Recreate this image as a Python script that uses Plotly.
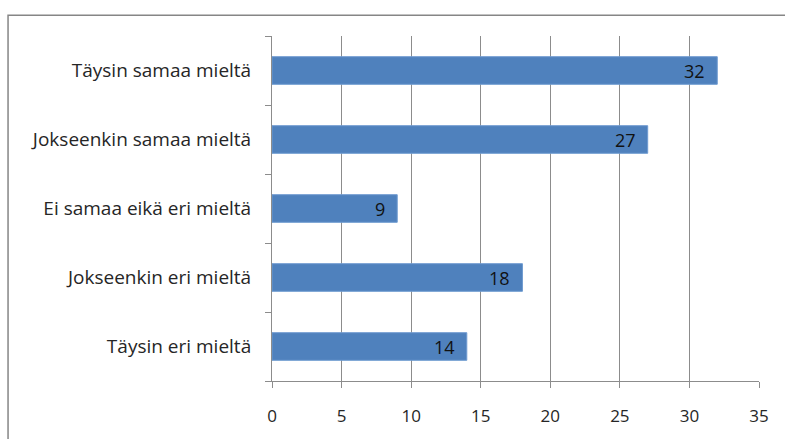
import plotly.graph_objects as go

# Survey responses (count per answer option), top to bottom
categories = [
    "Täysin samaa mieltä",
    "Jokseenkin samaa mieltä",
    "Ei samaa eikä eri mieltä",
    "Jokseenkin eri mieltä",
    "Täysin eri mieltä",
]
counts = [32, 27, 9, 18, 14]
x_ticks = [0, 5, 10, 15, 20, 25, 30, 35]

FONT = "Open Sans"
TEXT = "#262626"
GRID = "#8c8c8c"

fig = go.Figure(
    go.Bar(
        y=categories,
        x=counts,
        orientation="h",
        marker=dict(color="#4F81BD", line=dict(color="#6f9bd0", width=1)),
        hoverinfo="x+y",
    )
)

# value labels placed just inside the end of each bar
for cat, val in zip(categories, counts):
    fig.add_annotation(
        x=val,
        y=cat,
        xref="x",
        yref="y",
        text=str(val),
        showarrow=False,
        xanchor="right",
        xshift=-10,
        font=dict(family=FONT, size=18, color="#111111"),
    )

fig.update_layout(
    width=785,
    height=439,
    margin=dict(l=272, r=26, t=36, b=56),
    paper_bgcolor="white",
    plot_bgcolor="white",
    bargap=0.6,
    showlegend=False,
    font=dict(family=FONT, size=17, color=TEXT),
    xaxis=dict(
        range=[0, 35],
        tickvals=x_ticks,
        ticktext=[str(v) for v in x_ticks],
        showgrid=True,
        gridcolor=GRID,
        gridwidth=1,
        zeroline=False,
        showline=True,
        linecolor=GRID,
        linewidth=1,
        ticks="outside",
        ticklen=6,
        tickcolor=GRID,
        ticklabelstandoff=14,
        tickfont=dict(family=FONT, size=17, color=TEXT),
        fixedrange=True,
    ),
    yaxis=dict(
        categoryorder="array",
        categoryarray=categories[::-1],
        showgrid=False,
        showline=True,
        linecolor=GRID,
        linewidth=1,
        ticks="outside",
        tickson="boundaries",
        ticklen=6,
        tickcolor=GRID,
        ticklabelstandoff=16,
        tickfont=dict(family=FONT, size=19, color=TEXT),
        fixedrange=True,
    ),
    shapes=[
        # outer chart frame (left and top edges)
        dict(
            type="path",
            xref="paper",
            yref="paper",
            path="M -0.542,-0.2 L -0.542,1.0605 L 1.1,1.0605",
            line=dict(color="#868686", width=1.5),
        )
    ],
)

fig.write_html("out.html")
